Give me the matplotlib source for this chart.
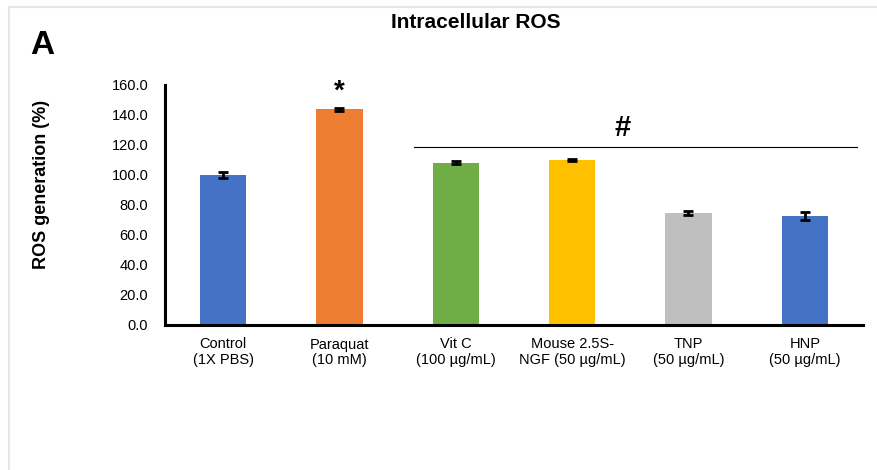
import numpy as np
import matplotlib as mpl
mpl.use('Agg')
import matplotlib.pyplot as plt
from matplotlib.lines import Line2D

plt.rcParams['font.family'] = ['Liberation Sans', 'DejaVu Sans']

# data
groups = ['Control\n(1X PBS)', 'Paraquat\n(10 mM)', 'Vit C\n(100 µg/mL)',
          'Mouse 2.5S-\nNGF (50 µg/mL)', 'TNP\n(50 µg/mL)', 'HNP\n(50 µg/mL)']
ros = [100.0, 143.8, 108.2, 110.0, 74.9, 72.7]
ros_err = [2.2, 0.9, 1.1, 0.8, 1.3, 2.4]
colors = ['#4472C4', '#ED7D31', '#70AD47', '#FFC000', '#BFBFBF', '#4472C4']
yticks = [0, 20, 40, 60, 80, 100, 120, 140, 160]

fig = plt.figure(figsize=(8.78, 4.70), dpi=100)

# light frame around the panel
fig.add_artist(Line2D([9/878, 1], [1 - 7/470, 1 - 7/470], color='#E6E6E6', lw=1.5))
fig.add_artist(Line2D([9/878, 9/878], [0, 1 - 7/470], color='#E6E6E6', lw=1.5))

ax = fig.add_axes([165/878, 145/470, 698/878, 240/470])
x = np.arange(len(groups))
ax.bar(x, ros, width=0.4, color=colors, zorder=2)
ax.errorbar(x, ros, yerr=ros_err, fmt='none', ecolor='black', elinewidth=2,
            capsize=3.5, capthick=2, zorder=3)

ax.set_xlim(-0.5, 5.5)
ax.set_ylim(0, 160)
ax.set_yticks(yticks)
ax.set_yticklabels(['%.1f' % v for v in yticks], fontsize=10.5)
ax.set_xticks(x)
ax.set_xticklabels(groups, fontsize=10.5, linespacing=1.1)
ax.tick_params(axis='both', length=0)
ax.tick_params(axis='x', pad=9)
ax.tick_params(axis='y', pad=12)
for s in ['top', 'right']:
    ax.spines[s].set_visible(False)
for s in ['left', 'bottom']:
    ax.spines[s].set_linewidth(2.2)

# significance marks
ax.text(1, 155.5, '*', ha='center', va='center', fontsize=20, fontweight='bold')
ax.plot([1.64, 5.45], [119, 119], color='black', lw=0.8, clip_on=False)
ax.text(3.43, 131, '#', ha='center', va='center', fontsize=21, fontweight='bold')

fig.text(42/878, 1 - 184/470, 'ROS generation (%)', rotation=90, ha='center',
         va='center', fontsize=13, fontweight='bold')
fig.text(476/878, 1 - 23/470, 'Intracellular ROS', ha='center', va='center',
         fontsize=15, fontweight='bold')
fig.text(42/878, 1 - 45/470, 'A', ha='center', va='center', fontsize=24,
         fontweight='bold')

plt.savefig('out.png', dpi=100)
